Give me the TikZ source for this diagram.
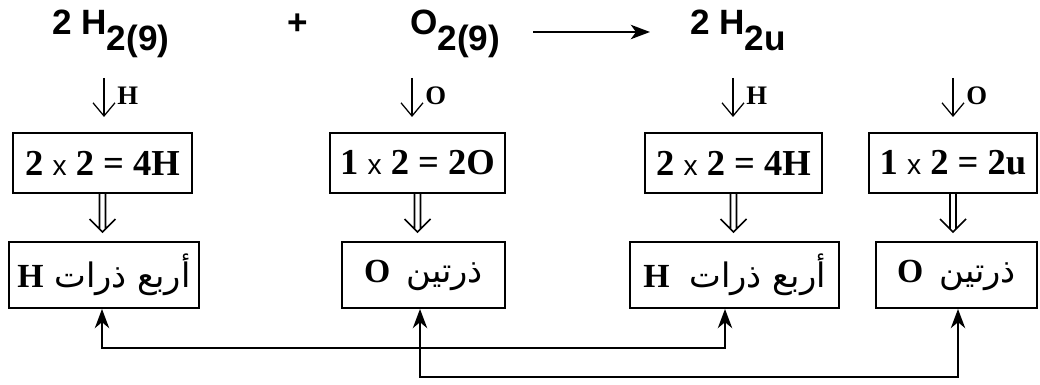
\documentclass[tikz,border=0pt]{standalone}
\usepackage{fontspec}
\setmainfont{Liberation Serif}
\newfontfamily\titlefont{Liberation Sans}
\newfontfamily\arabicfont[Script=Arabic]{DejaVu Sans}
\TeXXeTstate=1
\usetikzlibrary{arrows.meta,calc}

\tikzset{
	eqbox/.style={draw, line width=1.4pt, minimum height=1.5cm, inner sep=0pt, font=\fontsize{26}{30}\selectfont\bfseries},
	atombox/.style={draw, line width=1.4pt, minimum height=1.65cm, inner sep=0pt, font=\arabicfont\fontsize{24}{30}\selectfont},
	formula/.style={inner sep=0pt, font=\titlefont\fontsize{25}{28}\selectfont\bfseries},
	pick/.style={line width=0.9pt, -{Straight Barb[length=0.33cm, width=0.55cm]}},
	picklabel/.style={inner sep=0pt, right=0.32cm, font=\fontsize{19}{22}\selectfont\bfseries},
	link/.style={line width=1.2pt, -{Stealth[length=0.48cm, width=0.36cm, inset=0.15cm]}},
}
\newcommand{\lowsub}[1]{\raisebox{-11pt}{#1}}
\newcommand{\latinbf}[1]{{\rmfamily\bfseries #1}}
\newcommand{\mulsign}{{\titlefont\mdseries\fontsize{20}{24}\selectfont x}}
% double arrow from box #1 down to box #2
\newcommand{\dbldown}[2]{%
	\draw[line width=1.1pt] ($(#1.south)+(-3,0)$) -- ($(#2.north -| #1.south)+(-3,-12)$)
		($(#1.south)+(3,0)$) -- ($(#2.north -| #1.south)+(3,-12)$)
		($(#2.north -| #1.south)+(-13,-22)$) -- ($(#2.north -| #1.south)+(0,-9)$) -- ($(#2.north -| #1.south)+(13,-22)$);}

\begin{document}
\begin{tikzpicture}[x=0.025cm, y=-0.025cm]
	\useasboundingbox (0,0) rectangle (1040,385);
	% Reaction:
	\node[formula, anchor=base west] (h2) at (52,35) {2 H\lowsub{2(9)}};
	\node[formula, anchor=base] (plus) at (298,35) {+};
	\node[formula, anchor=base west] (o2) at (410,35) {O\lowsub{2(9)}};
	\node[formula, anchor=base west] (h2u) at (690,35) {2 H\lowsub{2u}};
	\coordinate (r1) at (533,32);
	\coordinate (r2) at (650,32);
	\draw[line width=1.2pt, -{Stealth[length=0.48cm, width=0.36cm, inset=0.13cm]}] (r1) -- (r2);
	% Atom picks:
	\coordinate (p1) at (104,78);
	\coordinate (p2) at (412,78);
	\coordinate (p3) at (733,78);
	\coordinate (p4) at (953,78);
	\draw[pick] (p1) -- ++(0,39) node[picklabel, pos=0.45] (l1) {H};
	\draw[pick] (p2) -- ++(0,39) node[picklabel, pos=0.45] (l2) {O};
	\draw[pick] (p3) -- ++(0,39) node[picklabel, pos=0.45] (l3) {H};
	\draw[pick] (p4) -- ++(0,39) node[picklabel, pos=0.45] (l4) {O};
	% Counting boxes:
	\node[eqbox, minimum width=4.475cm] (t1) at (102.5,163) {2 \mulsign{} 2 = 4H};
	\node[eqbox, minimum width=4.375cm] (t2) at (417.5,163) {1 \mulsign{} 2 = 2O};
	\node[eqbox, minimum width=4.425cm] (t3) at (733.5,163) {2 \mulsign{} 2 = 4H};
	\node[eqbox, minimum width=4.2cm] (t4) at (953,163) {1 \mulsign{} 2 = 2u};
	\node[atombox, minimum width=4.75cm] (b1) at (104,275) {\beginR أربع ذرات \latinbf{H}\endR};
	\node[atombox, minimum width=4.075cm] (b2) at (423.5,275) {\beginR ذرتين\hspace{0.4cm}\latinbf{O}\endR};
	\node[atombox, minimum width=5.225cm] (b3) at (734.5,275) {\beginR أربع ذرات\hspace{0.5cm}\latinbf{H}\endR};
	\node[atombox, minimum width=4.025cm] (b4) at (956.5,275) {\beginR ذرتين\hspace{0.4cm}\latinbf{O}\endR};
	\dbldown{t1}{b1}
	\dbldown{t2}{b2}
	\dbldown{t3}{b3}
	\dbldown{t4}{b4}
	% Links:
	\coordinate (j1) at (102,348);
	\coordinate (j2) at (420,377);
	\coordinate (j3) at (725,348);
	\coordinate (j4) at (958,377);
	\draw[link] (j3) -- (j1) -- (j1 |- b1.south);
	\draw[link] (j1) -- (j3) -- (j3 |- b3.south);
	\draw[link] (j4) -- (j2) -- (j2 |- b2.south);
	\draw[link] (j2) -- (j4) -- (j4 |- b4.south);
\end{tikzpicture}
\end{document}
